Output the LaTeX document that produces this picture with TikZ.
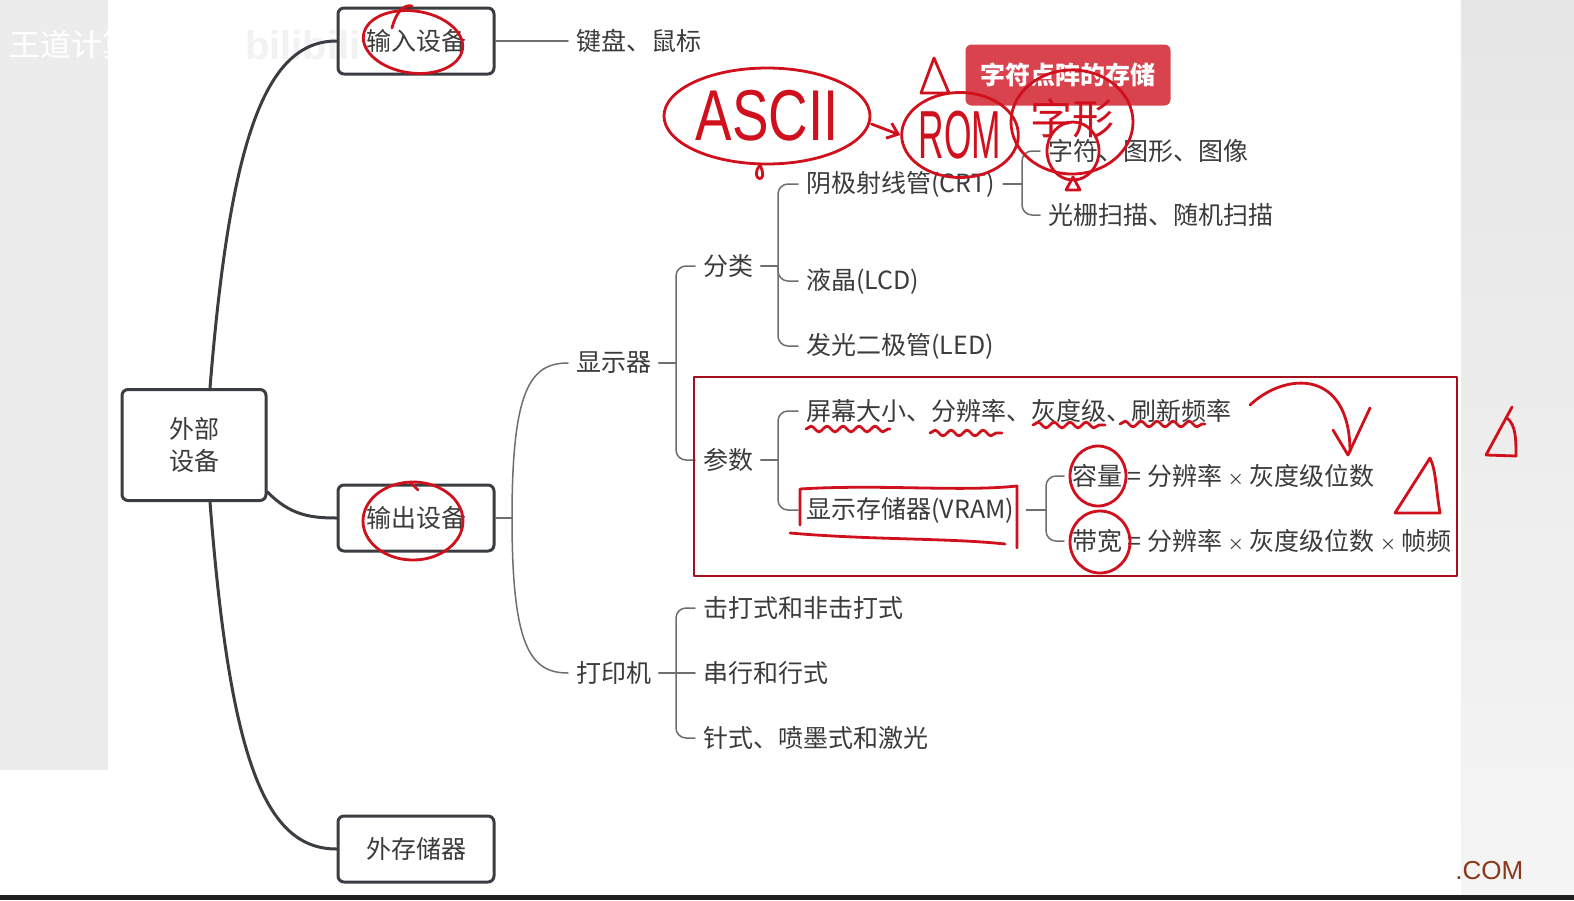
\documentclass[tikz,border=0pt]{standalone}
\usepackage{fontspec}
\usepackage{graphicx}
\setmainfont{Liberation Sans}
\newfontfamily\cjk{Noto Sans CJK SC}
\usetikzlibrary{shapes.geometric,arrows.meta,decorations.pathmorphing}

\definecolor{boxline}{HTML}{3A3D42}
\definecolor{twig}{HTML}{6E6E6E}
\definecolor{ink}{HTML}{3B3B3B}
\definecolor{frame}{HTML}{A3121C}
\definecolor{tagred}{HTML}{D8434E}
\definecolor{pen}{HTML}{D0101C}
\definecolor{strip}{HTML}{ECECEC}
\definecolor{comtxt}{HTML}{8A3A1A}

\newcommand{\tms}{\:{\fontsize{8}{8}\selectfont ×}\:}

\tikzset{
  topic/.style={draw=boxline, line width=1.5pt, rounded corners=3pt,
    minimum width=78pt, minimum height=33pt, text=ink,
    font=\cjk\fontsize{12.5}{16}\selectfont},
  leaf/.style={anchor=west, inner sep=0pt, text=ink,
    font=\cjk\fontsize{12.5}{15}\selectfont},
  trunk/.style={boxline, line width=1.5pt},
  twigline/.style={twig, line width=0.75pt, rounded corners=5pt},
  penline/.style={pen, line width=1.4pt, line cap=round, line join=round},
  handoval/.style={penline, draw, ellipse, inner sep=0pt, text=pen},
  wavy/.style={penline, decorate, decoration={snake, amplitude=1.4pt, segment length=8pt}},
}

\begin{document}
\begin{tikzpicture}[x=0.5pt, y=-0.5pt, line cap=round, line join=round]
\useasboundingbox (0,0) rectangle (1574,900);

% backdrop of the screenshot
\fill[white] (0,0) rectangle (1574,900);
\fill[strip] (0,0) rectangle (108,770);
\shade[top color=black!10, bottom color=black!4] (1461,0) rectangle (1574,895);
\fill[black!88] (0,895) rectangle (1574,900);
\node[anchor=west, text=white, font=\cjk\fontsize{15.5}{17}\selectfont] (mark) at (2,45) {王道计算机教育};
\node[anchor=west, text=black!5, font=\bfseries\fontsize{20}{20}\selectfont] (logo) at (238,45) {bilibili};

% topics
\node[topic, minimum width=72pt, minimum height=55.5pt, align=center] (root) at (194,445) {外部\\设备};
\node[topic] (inDev) at (416,41) {输入设备};
\node[topic] (outDev) at (416,518) {输出设备};
\node[topic] (extStore) at (416,849) {外存储器};

% leaves
\node[leaf] (keyMouse) at (576,41) {键盘、鼠标};
\node[leaf] (display) at (576,363) {显示器};
\node[leaf] (printer) at (576,673) {打印机};
\node[leaf] (classify) at (703,266) {分类};
\node[leaf] (params) at (703,460) {参数};
\node[leaf] (crt) at (806,184) {阴极射线管(CRT)};
\node[leaf] (lcd) at (806,281) {液晶(LCD)};
\node[leaf] (led) at (806,346) {发光二极管(LED)};
\node[leaf] (charImg) at (1048,151) {字符、图形、图像};
\node[leaf] (scan) at (1048,215) {光栅扫描、随机扫描};
\node[leaf] (screen) at (806,411) {屏幕大小、分辨率、灰度级、刷新频率};
\node[leaf] (vram) at (806,510) {显示存储器(VRAM)};
\node[leaf] (capacity) at (1072,476) {容量\:=\:分辨率\tms 灰度级位数};
\node[leaf] (bandwidth) at (1072,541) {带宽\:=\:分辨率\tms 灰度级位数\tms 帧频};
\node[leaf] (impact) at (703,608) {击打式和非击打式};
\node[leaf] (serial) at (703,673) {串行和行式};
\node[leaf] (needle) at (703,738) {针式、喷墨式和激光};

% thick branches from the root
\draw[trunk] (root.north) ++(16,0) .. controls (230,140) and (265,41) .. (inDev.west);
\draw[trunk] (root.south) ++(16,0) .. controls (230,760) and (265,849) .. (extStore.west);
\draw[trunk] (root.south east) ++(0,-10) .. controls (290,515) and (310,518) .. (outDev.west);

% thin branches
\coordinate (outFork) at (512,518);
\coordinate (dispFork) at (676,363);
\coordinate (clsFork) at (778,266);
\coordinate (crtFork) at (1022,184);
\coordinate (parFork) at (778,460);
\coordinate (vramFork) at (1046,510);
\coordinate (prtFork) at (676,673);

\draw[twigline] (inDev.east) -- ([xshift=-4pt]keyMouse.west);
\draw[twigline] (outDev.east) -- (outFork);
\draw[twig, line width=0.75pt] (outFork) .. controls (512,390) and (530,363) .. ([xshift=-4pt]display.west);
\draw[twig, line width=0.75pt] (outFork) .. controls (512,646) and (530,673) .. ([xshift=-4pt]printer.west);

\draw[twigline] ([xshift=3.5pt]display.east) -- (dispFork);
\draw[twigline] ([xshift=-4pt]classify.west) -| (dispFork) |- ([xshift=-4pt]params.west);

\draw[twigline] ([xshift=3.5pt]classify.east) -- (clsFork);
\draw[twigline] ([xshift=-4pt]crt.west) -| (clsFork) |- ([xshift=-4pt]led.west);
\draw[twigline] (clsFork) |- ([xshift=-4pt]lcd.west);

\draw[twigline] ([xshift=4pt]crt.east) -- (crtFork);
\draw[twigline] ([xshift=-4pt]charImg.west) -| (crtFork) |- ([xshift=-4pt]scan.west);

\draw[twigline] ([xshift=3.5pt]params.east) -- (parFork);
\draw[twigline] ([xshift=-4pt]screen.west) -| (parFork) |- ([xshift=-4pt]vram.west);

\draw[twigline] ([xshift=6pt]vram.east) -- (vramFork);
\draw[twigline] ([xshift=-4pt]capacity.west) -| (vramFork) |- ([xshift=-4pt]bandwidth.west);

\draw[twigline] ([xshift=3.5pt]printer.east) -- ([xshift=-4pt]serial.west);
\draw[twigline] ([xshift=-4pt]impact.west) -| (prtFork) |- ([xshift=-4pt]needle.west);

% highlighted block and tag
\draw[frame, line width=1.3pt] (694,377) rectangle (1457,576);
\node[fill=tagred, rounded corners=3pt, minimum width=102.5pt, minimum height=30.5pt,
  text=white, font=\cjk\bfseries\fontsize{12.5}{15}\selectfont] (tag) at (1068,75) {字符点阵的存储};
\node[anchor=west, text=comtxt, font=\fontsize{13}{15}\selectfont, inner sep=0pt] (com) at (1455,871) {.COM};

% pen marks
\draw[penline, rotate around={-8:(413,42)}] (413,42) ellipse [x radius=50, y radius=31];
\draw[penline] (392,28) .. controls (396,12) and (404,4) .. (412,6);
\draw[penline] (413,521) ellipse [x radius=50, y radius=39];
\draw[penline] (410,482) -- (418,490);

\node[handoval, minimum width=103pt, minimum height=48pt,
  font=\fontsize{36}{36}\selectfont] (ascii) at (767,116) {\scalebox{0.76}[1]{ASCII}};
\draw[penline] (760,165) .. controls (748,180) and (770,186) .. (760,165);
\node[handoval, minimum width=50pt, minimum height=42.5pt,
  font=\fontsize{34}{34}\selectfont] (rom) at (960,135) {\scalebox{0.52}[1]{ROM}};
\draw[penline, -{Straight Barb[length=5pt,width=8pt]}] ([yshift=-4pt]ascii.east) -- (rom.west);
\draw[penline] (934,58) -- (921,93) -- (949,93) -- cycle;

\node[handoval, minimum width=61pt, minimum height=52pt,
  font=\cjk\fontsize{21}{21}\selectfont] (glyph) at (1072,122) {\raisebox{5pt}{字形}};
\draw[penline] (1073,151) ellipse [x radius=26, y radius=29];
\draw[penline] (1066,190) -- (1080,190) -- (1073,177) -- cycle;

\draw[wavy] (806,429) -- (890,429);
\draw[wavy] (930,433) -- (1002,433);
\draw[wavy] (1033,425) -- (1105,425);
\draw[wavy] (1120,424) -- (1205,424);
\draw[penline] (1250,405) .. controls (1285,372) and (1350,368) .. (1350,452);
\draw[penline] (1333,430) -- (1348,455) -- (1370,408);

\draw[penline] (800,525) -- (800,489) .. controls (880,484) and (960,492) .. (1017,486) -- (1017,548);
\draw[penline] (790,533) .. controls (870,540) and (950,538) .. (1005,544);
\draw[penline] (1098,476) ellipse [x radius=28, y radius=30];
\draw[penline] (1100,542) ellipse [x radius=30, y radius=31];
\draw[penline] (1430,458) -- (1395,513) -- (1440,513) .. controls (1436,490) and (1436,470) .. (1430,458);
\draw[penline] (1512,407) -- (1486,455) -- (1516,456) .. controls (1516,440) and (1516,425) .. (1507,418);
\end{tikzpicture}
\end{document}
